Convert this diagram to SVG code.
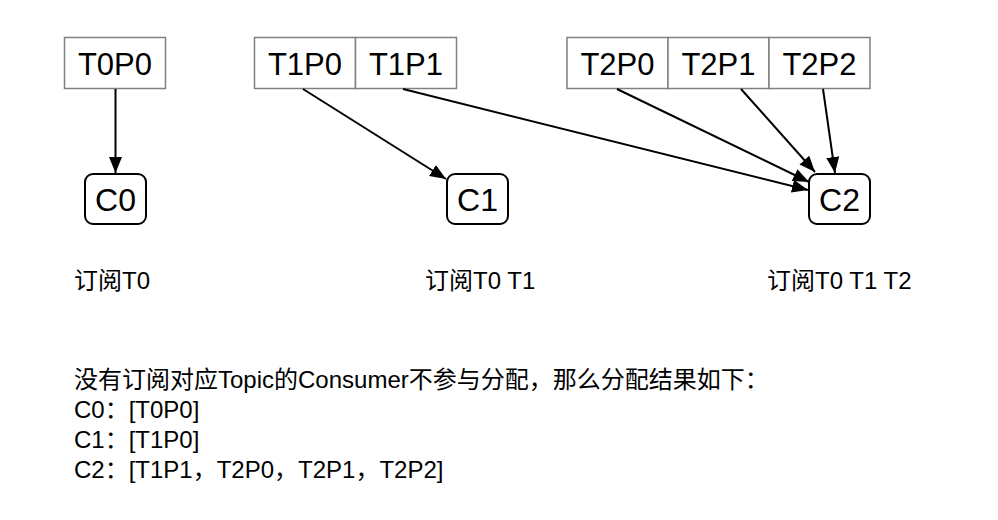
<svg xmlns="http://www.w3.org/2000/svg" width="998" height="520" viewBox="0 0 998 520">
<style>
.part{fill:#fff;stroke:#808080;stroke-width:1.5}
.cons{fill:#fff;stroke:#000;stroke-width:2}
.bt{font-family:"Liberation Sans","Noto Sans CJK SC",sans-serif;font-size:31px;fill:#000;text-anchor:middle}
.ct{font-size:32px}
.lt{font-family:"Liberation Sans","Noto Sans CJK SC",sans-serif;font-size:24px;fill:#000}
.edge{fill:none;stroke:#000;stroke-width:2}
</style>
<defs>
<marker id="ah" markerUnits="userSpaceOnUse" markerWidth="18" markerHeight="14" refX="16" refY="6.5" orient="auto">
<path d="M0,0 L16,6.5 L0,13 Z" fill="#000"/>
</marker>
</defs>
<rect width="998" height="520" fill="#fff"/>
<g id="T0P0"><rect class="part" x="64.5" y="37.5" width="101" height="51"/><text class="bt" x="115" y="74.5">T0P0</text></g>
<g id="T1P0"><rect class="part" x="254.5" y="37.5" width="101" height="51"/><text class="bt" x="305" y="74.5">T1P0</text></g>
<g id="T1P1"><rect class="part" x="355.5" y="37.5" width="101" height="51"/><text class="bt" x="406" y="74.5">T1P1</text></g>
<g id="T2P0"><rect class="part" x="567" y="37.5" width="101" height="51"/><text class="bt" x="617.5" y="74.5">T2P0</text></g>
<g id="T2P1"><rect class="part" x="668" y="37.5" width="101" height="51"/><text class="bt" x="718.5" y="74.5">T2P1</text></g>
<g id="T2P2"><rect class="part" x="769" y="37.5" width="101" height="51"/><text class="bt" x="819.5" y="74.5">T2P2</text></g>
<g id="C0"><rect class="cons" x="85" y="174" width="61" height="50" rx="8"/><text class="bt ct" x="115.5" y="211">C0</text></g>
<g id="C1"><rect class="cons" x="447" y="174" width="61" height="50" rx="8"/><text class="bt ct" x="477.5" y="211">C1</text></g>
<g id="C2"><rect class="cons" x="809" y="174" width="61" height="50" rx="8"/><text class="bt ct" x="839.5" y="211">C2</text></g>
<g id="connectors">
<line class="edge" x1="115.5" y1="89" x2="115.5" y2="173" marker-end="url(#ah)"/>
<line class="edge" x1="303" y1="89" x2="446" y2="179" marker-end="url(#ah)"/>
<line class="edge" x1="403" y1="89" x2="808" y2="190" marker-end="url(#ah)"/>
<line class="edge" x1="617" y1="89" x2="809" y2="182" marker-end="url(#ah)"/>
<line class="edge" x1="741" y1="89" x2="815" y2="172" marker-end="url(#ah)"/>
<line class="edge" x1="823" y1="89" x2="835" y2="173" marker-end="url(#ah)"/>
</g>
<g id="labels">
<text class="lt" x="74" y="289">订阅T0</text>
<text class="lt" x="425" y="289">订阅T0 T1</text>
<text class="lt" x="767" y="289">订阅T0 T1 T2</text>
</g>
<g id="summary">
<text class="lt" x="74" y="388">没有订阅对应Topic的Consumer不参与分配，那么分配结果如下：</text>
<text class="lt" x="74" y="418">C0：[T0P0]</text>
<text class="lt" x="74" y="448">C1：[T1P0]</text>
<text class="lt" x="74" y="478">C2：[T1P1，T2P0，T2P1，T2P2]</text>
</g>
</svg>
